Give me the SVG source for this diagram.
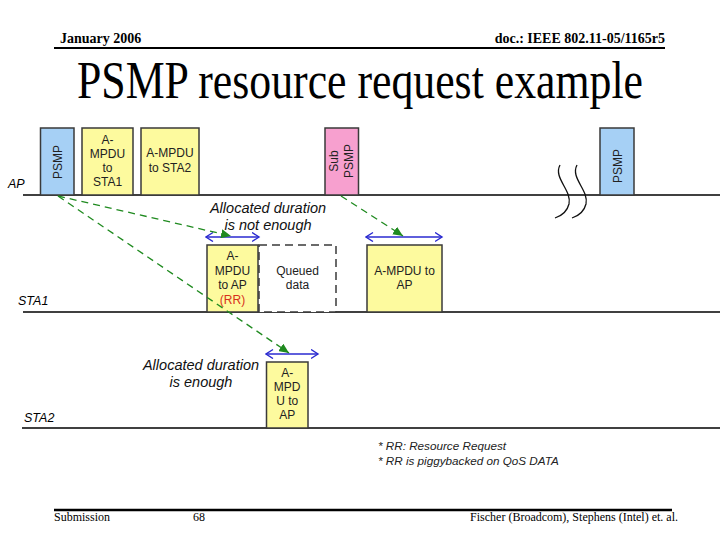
<svg xmlns="http://www.w3.org/2000/svg" width="720" height="540" viewBox="0 0 720 540">
<style>
.hdr{font-family:"Liberation Serif",serif;font-weight:bold;font-size:14px;fill:#000}
.ftr{font-family:"Liberation Serif",serif;font-size:12px;fill:#000}
.title{font-family:"Liberation Serif",serif;font-size:52px;fill:#000}
.lbl{font-family:"Liberation Sans",Arial,sans-serif;font-style:italic;font-size:12.5px;fill:#000}
.box{stroke:#3a3a3a;stroke-width:1.5}
.blue{fill:#a6d0f5}
.yel{fill:#fdfa9e}
.pink{fill:#f7a0cf}
.bt{font-family:"Liberation Sans",Arial,sans-serif;font-size:12px;fill:#222;text-anchor:middle}
.note{font-family:"Liberation Sans",Arial,sans-serif;font-style:italic;font-size:14.5px;fill:#111;text-anchor:middle}
.small{font-family:"Liberation Sans",Arial,sans-serif;font-style:italic;font-size:11.7px;fill:#222}
.tl{stroke:#000;stroke-width:1.3}
.g{stroke:#1f8a1f;stroke-width:1.3;stroke-dasharray:7 5;fill:none;marker-end:url(#ga)}
.b{stroke:#2a2ad0;stroke-width:1.5;marker-start:url(#ba);marker-end:url(#ba)}
</style>
<defs>
<marker id="ga" markerUnits="userSpaceOnUse" markerWidth="11" markerHeight="9" refX="10" refY="4.5" orient="auto">
<path d="M0,0 L10,4.5 L0,9 z" fill="#1f8a1f"/>
</marker>
<marker id="ba" markerUnits="userSpaceOnUse" markerWidth="9" markerHeight="11" refX="7.5" refY="5" orient="auto-start-reverse">
<path d="M0.5,0.5 L7.5,5 L0.5,9.5" fill="none" stroke="#2a2ad0" stroke-width="1.4"/>
</marker>
</defs>
<rect width="720" height="540" fill="#fff"/>

<g id="header">
<text class="hdr" x="60" y="43">January 2006</text>
<text class="hdr" x="665" y="43" text-anchor="end">doc.: IEEE 802.11-05/1165r5</text>
<line x1="54" y1="48" x2="665" y2="48" stroke="#000" stroke-width="2"/>
<text class="title" x="77" y="98" textLength="566" lengthAdjust="spacingAndGlyphs">PSMP resource request example</text>
</g>

<g id="timelines">
<line class="tl" x1="23" y1="195" x2="720" y2="195"/>
<line class="tl" x1="23" y1="312" x2="720" y2="312"/>
<line class="tl" x1="22" y1="428" x2="720" y2="428"/>
<text class="lbl" x="8" y="188">AP</text>
<text class="lbl" x="18" y="305">STA1</text>
<text class="lbl" x="24" y="422">STA2</text>
<path d="M560,165 C553,178 572,190 569,204 C567,212 561,216 555,218" fill="none" stroke="#111" stroke-width="1.3"/>
<path d="M577,165 C570,178 589,190 586,204 C584,212 578,216 572,218" fill="none" stroke="#111" stroke-width="1.3"/>
</g>

<g id="psmp1">
<rect class="box blue" x="40.5" y="128" width="33.5" height="67"/>
<text class="bt" transform="translate(62,162) rotate(-90)" font-size="13">PSMP</text>
</g>
<g id="ampdu-sta1">
<rect class="box yel" x="82" y="128" width="51" height="67"/>
<text class="bt" x="107.5" y="144">A-</text>
<text class="bt" x="107.5" y="158">MPDU</text>
<text class="bt" x="107.5" y="172">to</text>
<text class="bt" x="107.5" y="186">STA1</text>
</g>
<g id="ampdu-sta2">
<rect class="box yel" x="141" y="128" width="58" height="67"/>
<text class="bt" x="170" y="157">A-MPDU</text>
<text class="bt" x="170" y="172">to STA2</text>
</g>
<g id="subpsmp">
<rect class="box pink" x="325" y="128" width="33.5" height="67"/>
<text class="bt" transform="translate(338,161) rotate(-90)" font-size="13">Sub</text>
<text class="bt" transform="translate(353,161) rotate(-90)" font-size="13">PSMP</text>
</g>
<g id="psmp2">
<rect class="box blue" x="600" y="128" width="34" height="67"/>
<text class="bt" transform="translate(622,166) rotate(-90)" font-size="13">PSMP</text>
</g>

<g id="sta1-rr">
<rect class="box yel" x="207" y="245" width="51" height="67"/>
<text class="bt" x="232.5" y="260">A-</text>
<text class="bt" x="232.5" y="275">MPDU</text>
<text class="bt" x="232.5" y="289">to AP</text>
<text class="bt" x="232.5" y="304" style="fill:#d8301c">(RR)</text>
</g>
<g id="queued">
<rect x="259" y="245" width="77" height="67" fill="#fff" stroke="#3a3a3a" stroke-width="1.5" stroke-dasharray="8 5"/>
<text class="bt" x="297.5" y="275">Queued</text>
<text class="bt" x="297.5" y="289">data</text>
</g>
<g id="sta1-ampdu">
<rect class="box yel" x="367" y="245" width="75" height="67"/>
<text class="bt" x="404.5" y="275">A-MPDU to</text>
<text class="bt" x="404.5" y="289">AP</text>
</g>
<g id="sta2-ampdu">
<rect class="box yel" x="266.5" y="362" width="41.5" height="66"/>
<text class="bt" x="287.2" y="377">A-</text>
<text class="bt" x="287.2" y="391">MPD</text>
<text class="bt" x="287.2" y="405">U to</text>
<text class="bt" x="287.2" y="419">AP</text>
</g>

<g id="connectors">
<line class="b" x1="206" y1="237" x2="259" y2="237"/>
<line class="b" x1="366" y1="237" x2="442" y2="237"/>
<line class="b" x1="266" y1="354" x2="318" y2="354"/>
<line class="g" x1="58" y1="196" x2="231" y2="236"/>
<line class="g" x1="58" y1="196" x2="289" y2="353"/>
<line class="g" x1="341" y1="196" x2="403" y2="236"/>
</g>

<g id="annotations">
<text class="note" x="268" y="213">Allocated duration</text>
<text class="note" x="268" y="230">is not enough</text>
<text class="note" x="201" y="370">Allocated duration</text>
<text class="note" x="201" y="387">is enough</text>
<text class="small" x="378" y="450">* RR: Resource Request</text>
<text class="small" x="378" y="465">* RR is piggybacked on QoS DATA</text>
</g>

<g id="footer">
<line x1="54" y1="510" x2="672" y2="510" stroke="#000" stroke-width="2.5"/>
<text class="ftr" x="54" y="521">Submission</text>
<text class="ftr" x="193" y="521">68</text>
<text class="ftr" x="678" y="521" text-anchor="end">Fischer (Broadcom), Stephens (Intel) et. al.</text>
</g>
</svg>
